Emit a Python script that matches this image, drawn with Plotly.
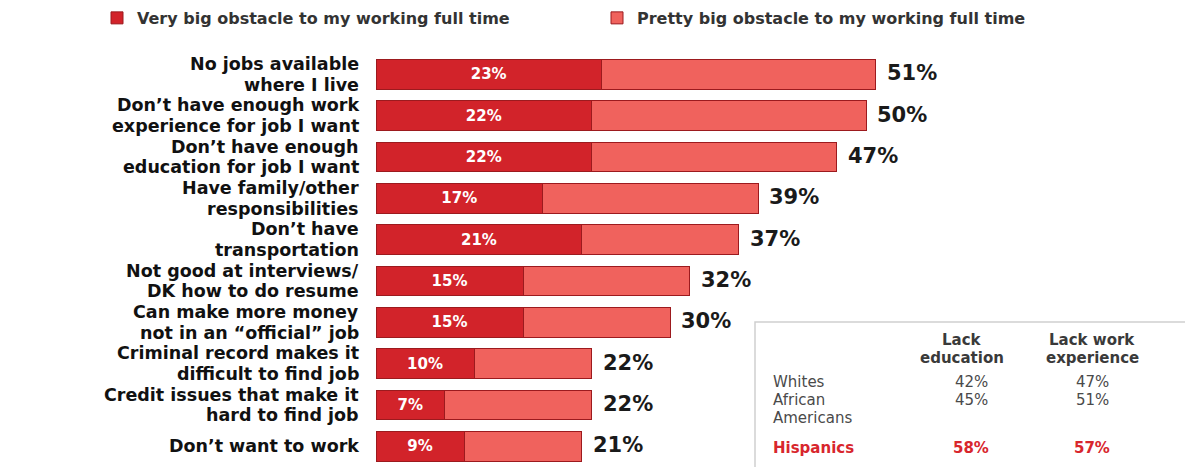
import plotly.graph_objects as go

# ---------------- data ----------------
label_lines = [
    ["No jobs available", "where I live"],
    ["Don’t have enough work", "experience for job I want"],
    ["Don’t have enough", "education for job I want"],
    ["Have family/other", "responsibilities"],
    ["Don’t have", "transportation"],
    ["Not good at interviews/", "DK how to do resume"],
    ["Can make more money", "not in an “official” job"],
    ["Criminal record makes it", "difficult to find job"],
    ["Credit issues that make it", "hard to find job"],
    ["Don’t want to work"],
]
categories = [" ".join(l) for l in label_lines]
very_big = [23, 22, 22, 17, 21, 15, 15, 10, 7, 9]
total = [51, 50, 47, 39, 37, 32, 30, 22, 22, 21]
pretty_big = [t - v for t, v in zip(total, very_big)]

table_groups = ["Whites", "African Americans", "Hispanics"]
table_cols = ["Lack education", "Lack work experience"]
lack_education = [42, 45, 58]
lack_work_exp = [47, 51, 57]

# ---------------- style ----------------
DARK = "#d2232a"
LIGHT = "#f0625d"
EDGE = "#9c1a1e"
FONT = "DejaVu Sans"

W, H = 1185, 467
L, R, T, B = 376, 0, 52, 0
PW, PH = W - L - R, H - T - B


def px_x(px):
    return (px - L) / PW


def px_y(py):
    return (H - B - py) / PH


fig = go.Figure()
fig.add_trace(go.Bar(
    y=categories, x=very_big, orientation="h", name="Very big obstacle to my working full time",
    marker=dict(color=DARK, line=dict(color=EDGE, width=1)),
    text=[f"{v}%" for v in very_big], textposition="inside", insidetextanchor="middle",
    textfont=dict(family=FONT, size=15, color="white", weight="bold"),
    width=0.72, hoverinfo="skip",
))
fig.add_trace(go.Bar(
    y=categories, x=pretty_big, orientation="h", name="Pretty big obstacle to my working full time",
    marker=dict(color=LIGHT, line=dict(color=EDGE, width=1)),
    width=0.72, hoverinfo="skip",
))

annotations = []
# category labels (right aligned, tight two-line leading)
for cat, lines in zip(categories, label_lines):
    shifts = [10.4, -10.4] if len(lines) == 2 else [0]
    for line, ys in zip(lines, shifts):
        annotations.append(dict(
            x=0, xref="paper", y=cat, yref="y", text=line, showarrow=False,
            xanchor="right", yanchor="middle", xshift=-15, yshift=ys,
            font=dict(family=FONT, size=17.5, color="#111", weight="bold"),
        ))
# totals
for cat, t in zip(categories, total):
    annotations.append(dict(
        x=t, xref="x", y=cat, yref="y", text=f"{t}%", showarrow=False,
        xanchor="left", yanchor="middle", xshift=9, yshift=1,
        font=dict(family=FONT, size=21, color="#1a1a1a", weight="bold"),
    ))

# inset table
col_x = [px_x(962), px_x(1092)]
head_y = [px_y(340), px_y(357.5)]
head_lines = [["Lack", "education"], ["Lack work", "experience"]]
for cx, hl in zip(col_x, head_lines):
    for txt, yy in zip(hl, head_y):
        annotations.append(dict(
            x=cx, xref="paper", y=yy, yref="paper", text=txt, showarrow=False,
            xanchor="center", yanchor="middle",
            font=dict(family=FONT, size=15, color="#3a3a3a", weight="bold"),
        ))
row_y = [px_y(382), px_y(400), px_y(448)]
for i, (g, a, b) in enumerate(zip(table_groups, lack_education, lack_work_exp)):
    hisp = g == "Hispanics"
    color = "#d8262d" if hisp else "#4a4a4a"
    weight = "bold" if hisp else "normal"
    parts = ["African", "Americans"] if g == "African Americans" else [g]
    for j, p in enumerate(parts):
        annotations.append(dict(
            x=px_x(771), xref="paper", y=row_y[i] - j * (17.6 / PH), yref="paper", text=p,
            showarrow=False, xanchor="left", yanchor="middle",
            font=dict(family=FONT, size=15, color=color, weight=weight),
        ))
    for cx, v in zip([px_x(971), px_x(1092)], [a, b]):
        annotations.append(dict(
            x=cx, xref="paper", y=row_y[i], yref="paper", text=f"{v}%", showarrow=False,
            xanchor="center", yanchor="middle",
            font=dict(family=FONT, size=15, color=color, weight=weight),
        ))

shapes = [dict(
    type="rect", xref="paper", yref="paper",
    x0=px_x(755), x1=px_x(1200), y0=px_y(480), y1=px_y(322),
    line=dict(color="#cfcfcf", width=1.5), fillcolor="white", layer="above",
)]

fig.update_layout(
    width=W, height=H, barmode="stack",
    margin=dict(l=L, r=R, t=T, b=B, pad=0, autoexpand=False),
    paper_bgcolor="white", plot_bgcolor="white",
    xaxis=dict(range=[0, PW / 9.8], visible=False, fixedrange=True),
    yaxis=dict(categoryorder="array", categoryarray=categories, autorange="reversed",
               range=[9.5, -0.5], visible=False, fixedrange=True),
    showlegend=True,
    legend=dict(orientation="h", xref="paper", yref="paper", x=px_x(97), y=1.082,
                xanchor="left", yanchor="middle", traceorder="normal",
                entrywidth=455, entrywidthmode="pixels",
                font=dict(family=FONT, size=16, color="#333", weight="bold"),
                itemwidth=30, bgcolor="rgba(0,0,0,0)"),
    annotations=annotations, shapes=shapes,
)

fig.write_html("out.html")
